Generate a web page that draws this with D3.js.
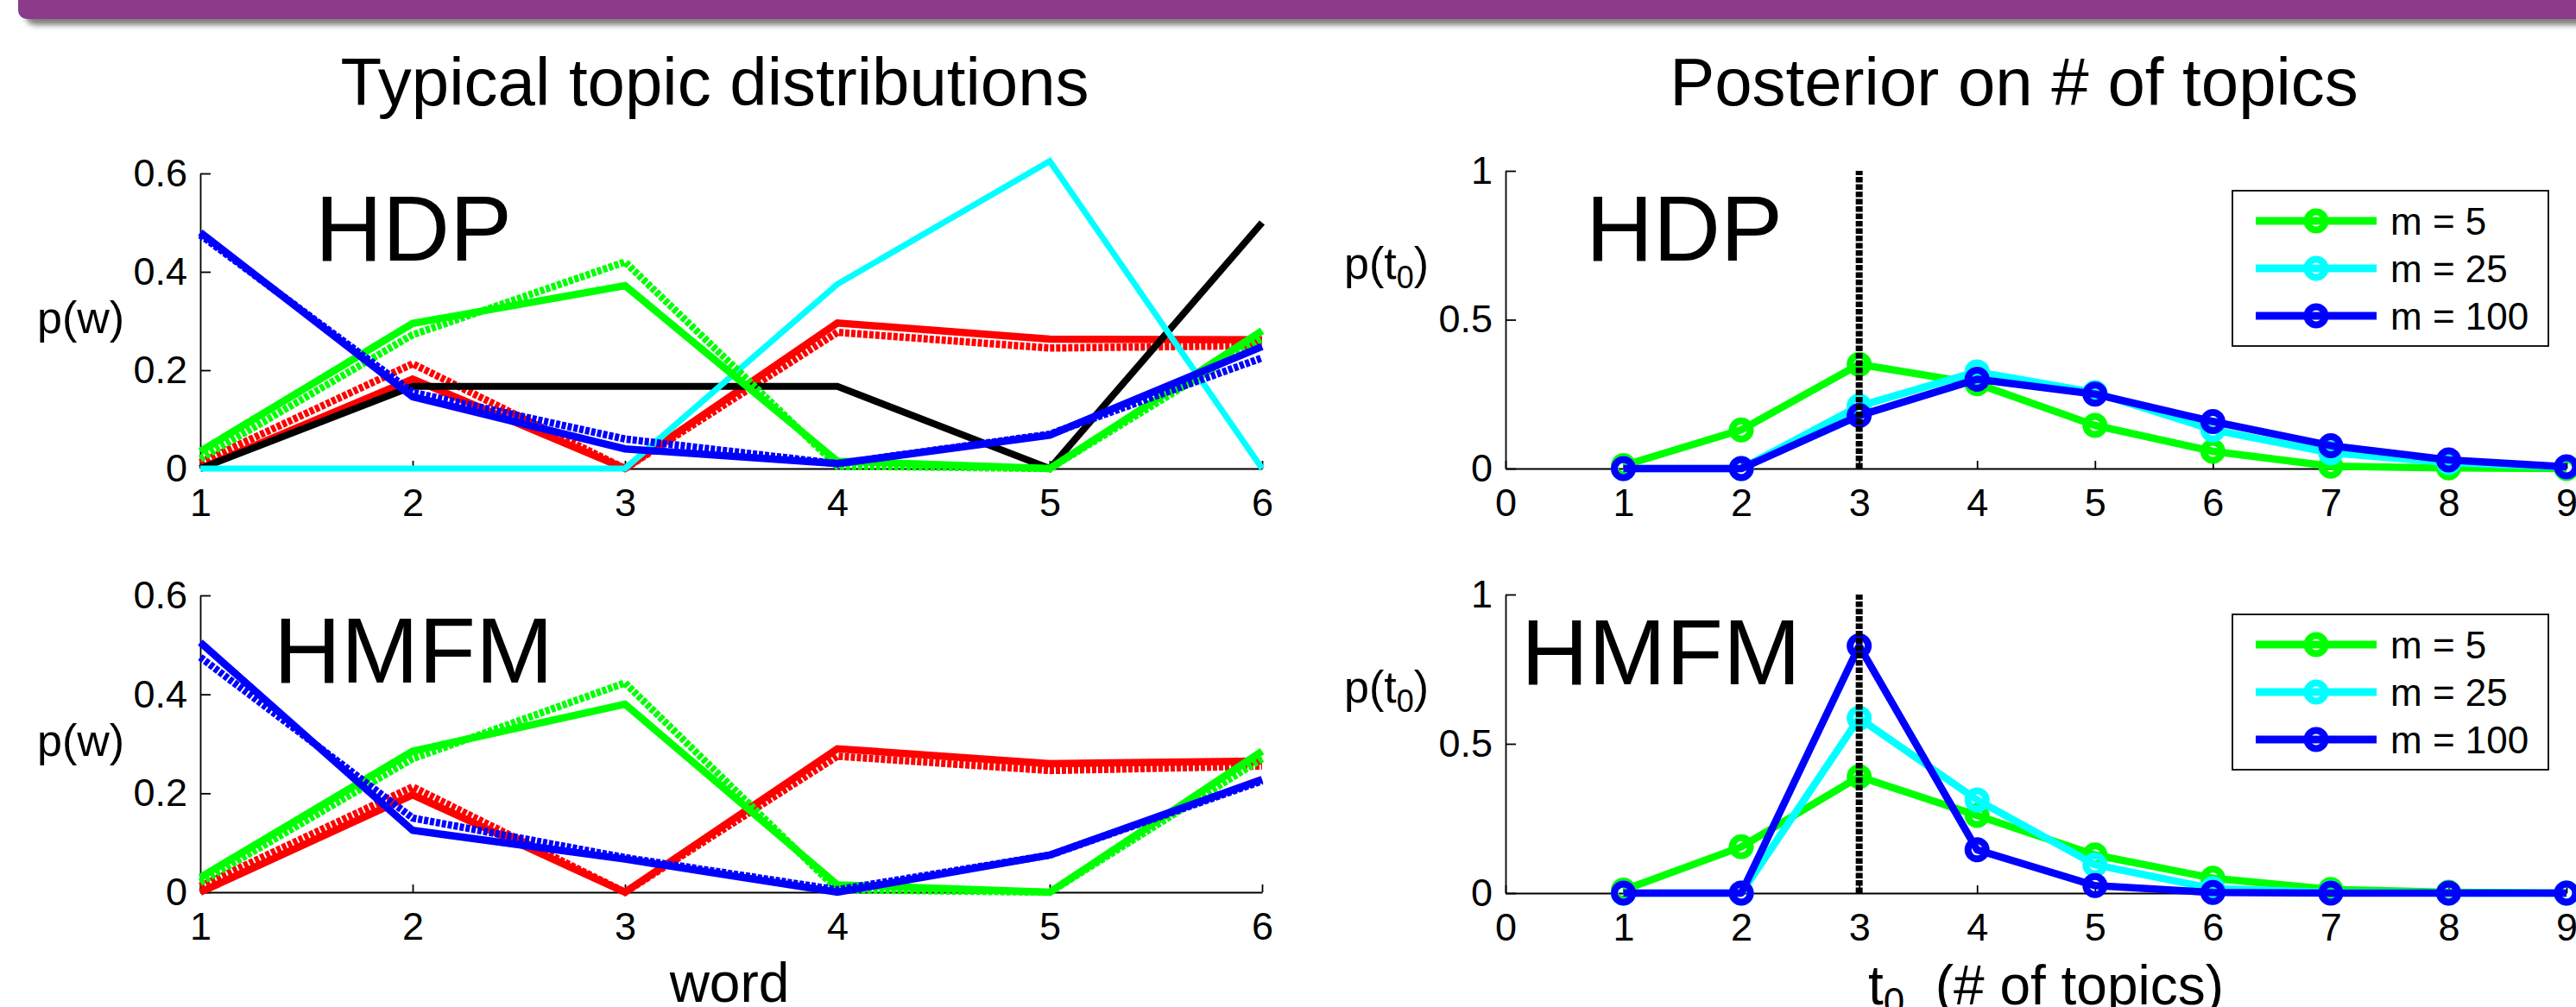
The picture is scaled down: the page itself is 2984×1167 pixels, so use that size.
<!DOCTYPE html>
<html>
<head>
<meta charset="utf-8">
<script src="https://cdn.jsdelivr.net/npm/d3@7"></script>
<style>
  html, body { margin: 0; padding: 0; background: #fff; }
  svg { display: block; font-family: "Liberation Sans", Arial, Helvetica, sans-serif; }
</style>
</head>
<body>
<div id="fig"></div>
<script>
// ---- data ----
const words = [1, 2, 3, 4, 5, 6];
const wordTicks = [1, 2, 3, 4, 5, 6];
const pwTicks = [0, 0.2, 0.4, 0.6];

const topicCounts = [1, 2, 3, 4, 5, 6, 7, 8, 9];
const countTicks = [0, 1, 2, 3, 4, 5, 6, 7, 8, 9];
const ptTicks = [0, 0.5, 1];
const trueCount = 3;

// HDP topic distributions (solid = estimated, dotted = true)
const hdpGreenSolid  = [0.035, 0.295, 0.372, 0.015, 0.0, 0.28];
const hdpGreenDotted = [0.02, 0.272, 0.42, 0.005, 0.0, 0.265];
const hdpRedSolid    = [0.0, 0.182, 0.0, 0.296, 0.263, 0.262];
const hdpRedDotted   = [0.012, 0.213, 0.0, 0.277, 0.245, 0.25];
const hdpBlueSolid   = [0.48, 0.146, 0.04, 0.01, 0.068, 0.248];
const hdpBlueDotted  = [0.475, 0.155, 0.06, 0.01, 0.07, 0.225];
const hdpBlack       = [0.0, 0.167, 0.167, 0.167, 0.0, 0.5];
const hdpCyan        = [0.0, 0.0, 0.0, 0.375, 0.625, 0.0];

// HMFM topic distributions
const hmfmGreenSolid  = [0.03, 0.285, 0.38, 0.015, 0.0, 0.285];
const hmfmGreenDotted = [0.02, 0.27, 0.423, 0.005, 0.0, 0.27];
const hmfmRedSolid    = [0.0, 0.197, 0.0, 0.29, 0.26, 0.265];
const hmfmRedDotted   = [0.012, 0.213, 0.0, 0.275, 0.246, 0.255];
const hmfmBlueSolid   = [0.505, 0.125, 0.067, 0.0, 0.075, 0.228];
const hmfmBlueDotted  = [0.475, 0.15, 0.07, 0.005, 0.075, 0.225];

// posterior on number of topics
const hdpPostM5   = [0.01, 0.13, 0.35, 0.285, 0.145, 0.058, 0.008, 0.002, 0.0];
const hdpPostM25  = [0.0, 0.0, 0.21, 0.325, 0.255, 0.13, 0.053, 0.02, 0.005];
const hdpPostM100 = [0.0, 0.0, 0.178, 0.30, 0.25, 0.158, 0.077, 0.029, 0.006];

const hmfmPostM5   = [0.01, 0.155, 0.39, 0.26, 0.128, 0.05, 0.012, 0.003, 0.0];
const hmfmPostM25  = [0.0, 0.0, 0.586, 0.312, 0.095, 0.015, 0.002, 0.0, 0.0];
const hmfmPostM100 = [0.0, 0.0, 0.828, 0.145, 0.025, 0.002, 0.0, 0.0, 0.0];

const legendLabels = ["m = 5", "m = 25", "m = 100"];

// ---- figure ----
const width = 2984, height = 1167;

const svg = d3.select("#fig")
  .append("svg")
  .attr("width", width)
  .attr("height", height)
  .attr("viewBox", [0, 0, width, height]);

// slide header bar
const defs = svg.append("defs");
defs.append("filter")
    .attr("id", "shadow")
    .attr("x", "-5%").attr("y", "-50%")
    .attr("width", "110%").attr("height", "300%")
  .append("feDropShadow")
    .attr("dx", 9).attr("dy", 7)
    .attr("stdDeviation", 3)
    .attr("flood-color", "#555")
    .attr("flood-opacity", 0.75);

svg.append("rect")
  .attr("x", 21).attr("y", -30)
  .attr("width", 3020).attr("height", 52)
  .attr("rx", 10)
  .attr("fill", "#8b3a8a")
  .attr("filter", "url(#shadow)");

// titles
svg.append("text")
  .attr("x", 828).attr("y", 122)
  .attr("text-anchor", "middle")
  .attr("font-size", 78)
  .text("Typical topic distributions");

svg.append("text")
  .attr("x", 2333).attr("y", 122)
  .attr("text-anchor", "middle")
  .attr("font-size", 78)
  .text("Posterior on # of topics");

function drawAxes(g, x, y, xTicks, yTicks) {
  const xg = g.append("g")
      .attr("transform", `translate(0,${y.range()[0]})`)
    .call(d3.axisBottom(x)
      .tickValues(xTicks)
      .tickSizeInner(-9)
      .tickSizeOuter(0)
      .tickPadding(23)
      .tickFormat(d3.format("~g")));

  const yg = g.append("g")
      .attr("transform", `translate(${x.range()[0]},0)`)
    .call(d3.axisLeft(y)
      .tickValues(yTicks)
      .tickSizeInner(-12)
      .tickSizeOuter(0)
      .tickPadding(15)
      .tickFormat(d3.format("~g")));

  [xg, yg].forEach(a => {
    a.attr("font-family", null).attr("font-size", 45);
    a.select(".domain").attr("stroke", "#000").attr("stroke-width", 1.8);
    a.selectAll(".tick line").attr("stroke", "#000").attr("stroke-width", 1.8);
    a.selectAll(".tick text").attr("fill", "#000");
  });
}

function yLabel(g, x, y, sub) {
  const t = g.append("text")
    .attr("x", x).attr("y", y)
    .attr("font-size", 52);
  if (sub) {
    t.append("tspan").text("p(t");
    t.append("tspan").attr("font-size", 36).attr("dy", 11).text("0");
    t.append("tspan").attr("dy", -11).text(")");
  } else {
    t.text("p(w)");
  }
}

function bigLabel(g, x, y, text) {
  g.append("text")
    .attr("x", x).attr("y", y)
    .attr("font-size", 108)
    .text(text);
}

// ---- topic distribution panels ----
function topicPanel(yRange, series, label, labelX) {
  const g = svg.append("g");
  const x = d3.scaleLinear().domain([1, 6]).range([232, 1462]);
  const y = d3.scaleLinear().domain([0, 0.6]).range(yRange);

  drawAxes(g, x, y, wordTicks, pwTicks);

  const line = d3.line()
    .x((d, i) => x(words[i]))
    .y(d => y(d));

  g.append("g")
    .selectAll("path")
    .data(series)
    .join("path")
      .attr("d", d => line(d.values))
      .attr("fill", "none")
      .attr("stroke", d => d.color)
      .attr("stroke-width", d => d.width)
      .attr("stroke-dasharray", d => d.dotted ? "5,2" : null)
      .attr("stroke-linejoin", "miter")
      .attr("stroke-miterlimit", 2);

  yLabel(g, 43, (yRange[0] + yRange[1]) / 2 + 14, false);
  bigLabel(g, labelX, yRange[1] + 101, label);
}

topicPanel([543, 201], [
  { values: hdpRedSolid,    color: "#ff0000", width: 8.5, dotted: false },
  { values: hdpRedDotted,   color: "#ff0000", width: 8.5, dotted: true },
  { values: hdpBlack,       color: "#000000", width: 8,   dotted: false },
  { values: hdpCyan,        color: "#00ffff", width: 7,   dotted: false },
  { values: hdpGreenSolid,  color: "#00ff00", width: 8.5, dotted: false },
  { values: hdpGreenDotted, color: "#00ff00", width: 8.5, dotted: true },
  { values: hdpBlueDotted,  color: "#0000ff", width: 8.5, dotted: true },
  { values: hdpBlueSolid,   color: "#0000ff", width: 8.5, dotted: false }
], "HDP", 365);

topicPanel([1034, 690], [
  { values: hmfmRedSolid,    color: "#ff0000", width: 8.5, dotted: false },
  { values: hmfmRedDotted,   color: "#ff0000", width: 8.5, dotted: true },
  { values: hmfmGreenSolid,  color: "#00ff00", width: 8.5, dotted: false },
  { values: hmfmGreenDotted, color: "#00ff00", width: 8.5, dotted: true },
  { values: hmfmBlueDotted,  color: "#0000ff", width: 8.5, dotted: true },
  { values: hmfmBlueSolid,   color: "#0000ff", width: 8.5, dotted: false }
], "HMFM", 317);

svg.append("text")
  .attr("x", 845).attr("y", 1161)
  .attr("text-anchor", "middle")
  .attr("font-size", 64)
  .text("word");

// ---- posterior panels ----
const postColors = ["#00ff00", "#00ffff", "#0000ff"];

function posteriorPanel(yRange, seriesList, label, labelX) {
  const g = svg.append("g");
  const x = d3.scaleLinear().domain([0, 9]).range([1744, 2973]);
  const y = d3.scaleLinear().domain([0, 1]).range(yRange);

  drawAxes(g, x, y, countTicks, ptTicks);

  const line = d3.line()
    .x((d, i) => x(topicCounts[i]))
    .y(d => y(d));

  seriesList.forEach((values, k) => {
    const s = g.append("g");
    s.append("path")
      .attr("d", line(values))
      .attr("fill", "none")
      .attr("stroke", postColors[k])
      .attr("stroke-width", 8.5)
      .attr("stroke-linejoin", "round");
    s.selectAll("circle")
      .data(values)
      .join("circle")
        .attr("cx", (d, i) => x(topicCounts[i]))
        .attr("cy", d => y(d))
        .attr("r", 10.5)
        .attr("fill", "none")
        .attr("stroke", postColors[k])
        .attr("stroke-width", 8);
  });

  // true number of topics
  g.append("line")
    .attr("x1", x(trueCount)).attr("x2", x(trueCount))
    .attr("y1", y(0)).attr("y2", y(1))
    .attr("stroke", "#000")
    .attr("stroke-width", 8)
    .attr("stroke-dasharray", "6.5,2");

  // legend
  const top = y(1) + 23;
  const lg = g.append("g");
  lg.append("rect")
    .attr("x", 2586).attr("y", top)
    .attr("width", 366).attr("height", 180)
    .attr("fill", "#fff")
    .attr("stroke", "#000")
    .attr("stroke-width", 1.8);

  legendLabels.forEach((name, k) => {
    const cy = top + 35 + k * 55;
    lg.append("line")
      .attr("x1", 2613).attr("x2", 2753)
      .attr("y1", cy).attr("y2", cy)
      .attr("stroke", postColors[k])
      .attr("stroke-width", 9);
    lg.append("circle")
      .attr("cx", 2683).attr("cy", cy)
      .attr("r", 10.5)
      .attr("fill", "none")
      .attr("stroke", postColors[k])
      .attr("stroke-width", 8);
    lg.append("text")
      .attr("x", 2769).attr("y", cy + 16)
      .attr("font-size", 44)
      .text(name);
  });

  yLabel(g, 1557, (yRange[0] + yRange[1]) / 2 - 48, true);
  bigLabel(g, labelX, y(1) + 104, label);
}

posteriorPanel([543, 198], [hdpPostM5, hdpPostM25, hdpPostM100], "HDP", 1837);
posteriorPanel([1035, 689], [hmfmPostM5, hmfmPostM25, hmfmPostM100], "HMFM", 1762);

const xl = svg.append("text")
  .attr("x", 2370).attr("y", 1164)
  .attr("text-anchor", "middle")
  .attr("font-size", 64)
  .style("white-space", "pre");
xl.append("tspan").text("t");
xl.append("tspan").attr("font-size", 44).attr("dy", 12).text("0");
xl.append("tspan").attr("dy", -12).text("  (# of topics)");
</script>
</body>
</html>
